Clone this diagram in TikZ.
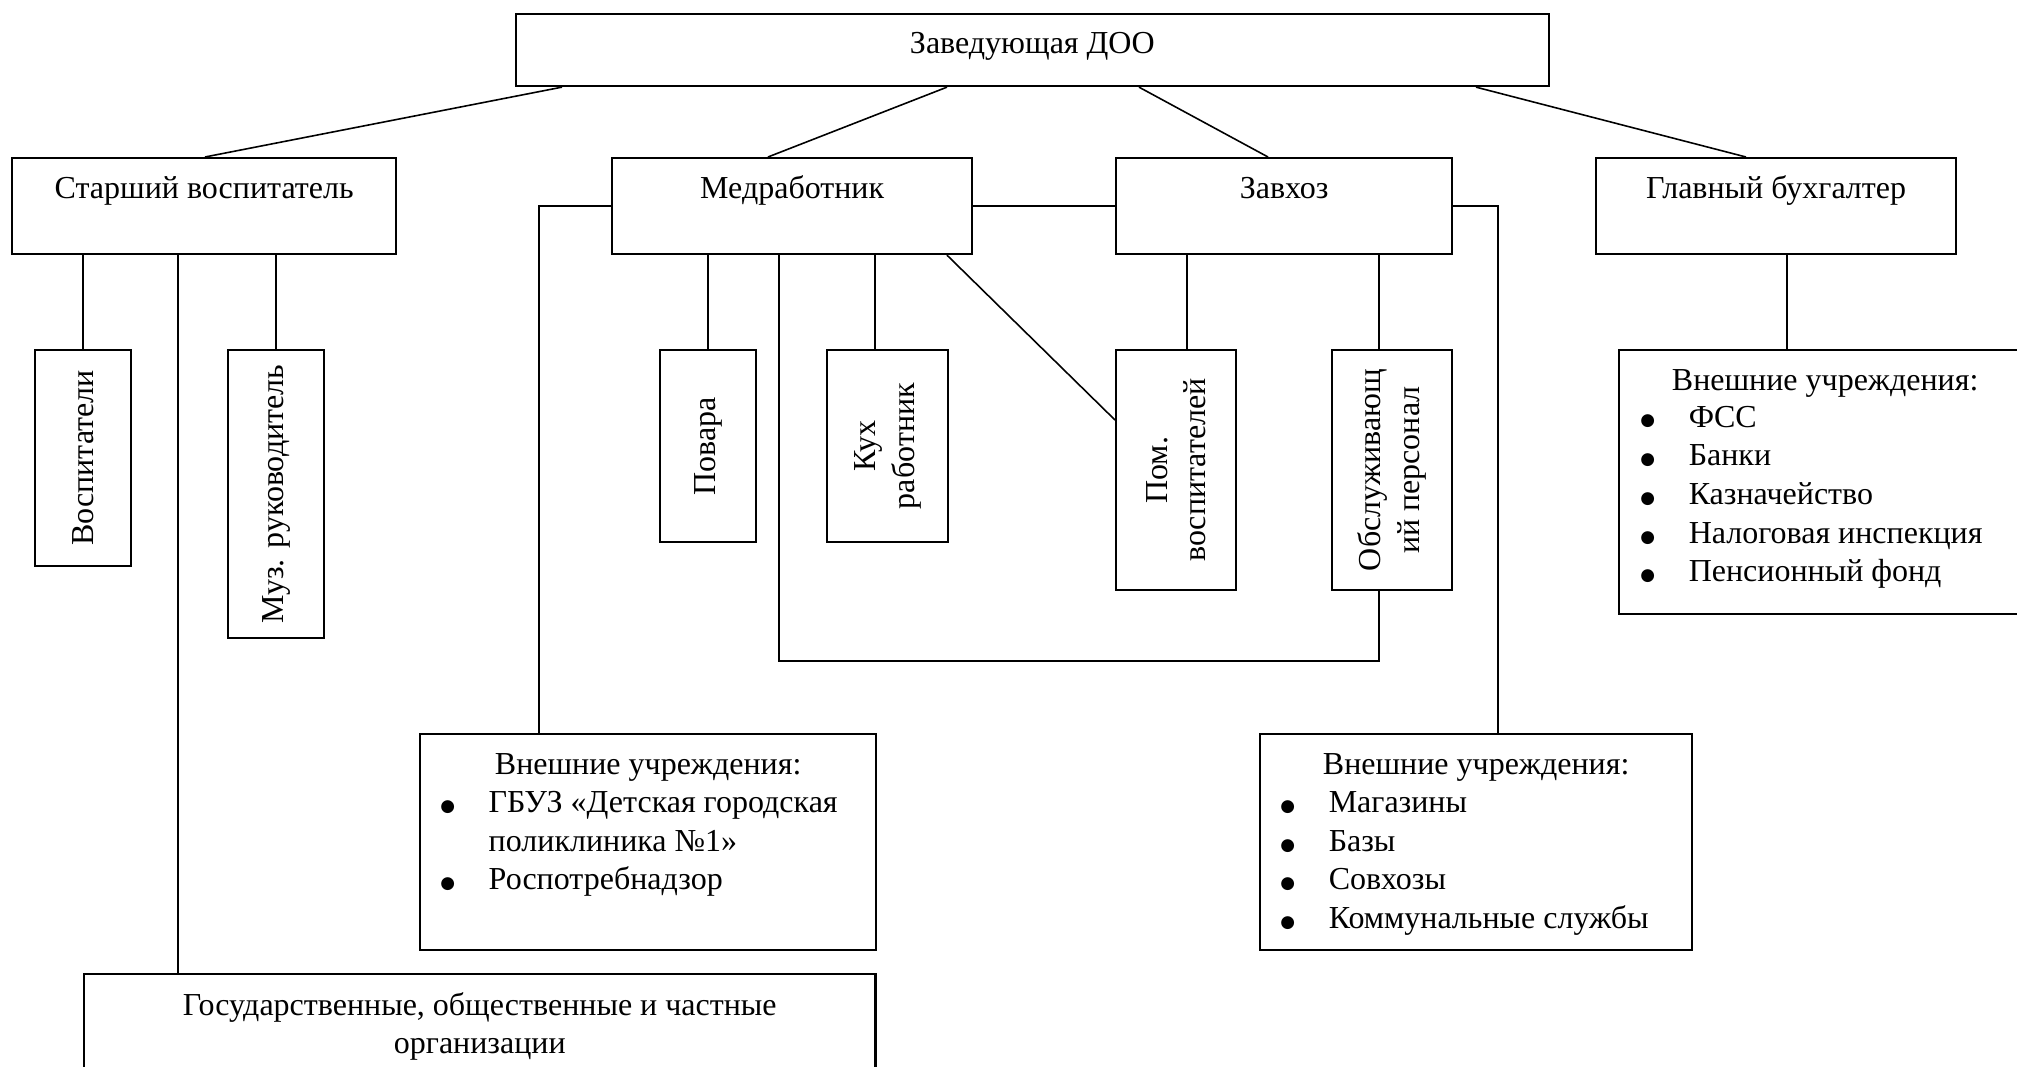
\documentclass[tikz,border=0pt]{standalone}
\usepackage{fontspec}
\setmainfont{Liberation Serif}
\newfontfamily\dotfont{DejaVu Sans}
\usepackage{tikz}
\usetikzlibrary{positioning}

\newcommand{\blt}{\llap{\makebox[0.82cm]{\raisebox{0.3pt}{\dotfont\fontsize{4.8}{6}\selectfont ●}}}}

\begin{document}
\begin{tikzpicture}[x=0.01cm, y=-0.01cm,
  blk/.style={draw, line width=0.6pt, inner sep=0pt, anchor=north west},
  txt/.style={inner sep=0pt, font=\fontsize{9.1}{11}\selectfont},
  link/.style={line width=0.45pt}]
\useasboundingbox (0,0) rectangle (2017,1067);
\clip (0,0) rectangle (2017,1067);

\node [blk, minimum width=10.32cm, minimum height=0.72cm] (zav) at (515,13) {};
\node [blk, minimum width=3.84cm, minimum height=0.96cm] (star) at (11,157) {};
\node [blk, minimum width=3.60cm, minimum height=0.96cm] (med) at (611,157) {};
\node [blk, minimum width=3.36cm, minimum height=0.96cm] (zavhoz) at (1115,157) {};
\node [blk, minimum width=3.60cm, minimum height=0.96cm] (buh) at (1595,157) {};

\node [blk, minimum width=0.96cm, minimum height=2.16cm] (vosp) at (34,349) {};
\node [blk, minimum width=0.96cm, minimum height=2.88cm] (muz) at (227,349) {};
\node [blk, minimum width=0.96cm, minimum height=1.92cm] (povar) at (659,349) {};
\node [blk, minimum width=1.21cm, minimum height=1.92cm] (kuh) at (826,349) {};
\node [blk, minimum width=1.20cm, minimum height=2.40cm] (pom) at (1115,349) {};
\node [blk, minimum width=1.20cm, minimum height=2.40cm] (obsl) at (1331,349) {};

\node [blk, minimum width=4.56cm, minimum height=2.16cm] (vnmed) at (419,733) {};
\node [blk, minimum width=4.32cm, minimum height=2.16cm] (vnhoz) at (1259,733) {};
\node [blk, minimum width=4.12cm, minimum height=2.64cm] (vnbuh) at (1618,349) {};
\node [blk, minimum width=7.91cm, minimum height=1.40cm] (org) at (83,973) {};

% titles
\node [txt, anchor=base] (zavt) at ([yshift=-0.40cm]zav.north) {Заведующая ДОО};
\node [txt, anchor=base] (start) at ([yshift=-0.41cm]star.north) {Старший воспитатель};
\node [txt, anchor=base] (medt) at ([yshift=-0.41cm]med.north) {Медработник};
\node [txt, anchor=base] (zavhozt) at ([yshift=-0.41cm]zavhoz.north) {Завхоз};
\node [txt, anchor=base] (buht) at ([yshift=-0.41cm]buh.north) {Главный бухгалтер};

\node [txt, rotate=90] (vospt) at (vosp) {Воспитатели};
\node [txt, rotate=90] (muzt) at (muz) {Муз. руководитель};
\node [txt, rotate=90] (povart) at (povar) {Повара};
\node [txt, rotate=90, align=center] (kuht) at (kuh) {Кух\\работник};
\node [txt, rotate=90, align=center] (pomt) at (pom) {Пом.\\воспитателей};
\node [txt, rotate=90, align=center] (obslt) at (obsl) {Обслуживающ\\ий персонал};

\node [txt, anchor=base] (vnmedh) at ([yshift=-0.41cm]vnmed.north) {Внешние учреждения:};
\node [txt, anchor=base west] (vnmedl) at ([shift={(0.69cm,-0.795cm)}]vnmed.north west)
  {\begin{tabular}[t]{@{}l@{}}\blt ГБУЗ «Детская городская\\ поликлиника №1»\\ \blt Роспотребнадзор\end{tabular}};

\node [txt, anchor=base] (vnhozh) at ([yshift=-0.41cm]vnhoz.north) {Внешние учреждения:};
\node [txt, anchor=base west] (vnhozl) at ([shift={(0.69cm,-0.795cm)}]vnhoz.north west)
  {\begin{tabular}[t]{@{}l@{}}\blt Магазины\\ \blt Базы\\ \blt Совхозы\\ \blt Коммунальные службы\end{tabular}};

\node [txt, anchor=base] (vnbuhh) at ([yshift=-0.41cm]vnbuh.north) {Внешние учреждения:};
\node [txt, anchor=base west] (vnbuhl) at ([shift={(0.70cm,-0.78cm)}]vnbuh.north west)
  {\begin{tabular}[t]{@{}l@{}}\blt ФСС\\ \blt Банки\\ \blt Казначейство\\ \blt Налоговая инспекция\\ \blt Пенсионный фонд\end{tabular}};

\node [txt, anchor=base] (orgt) at ([yshift=-0.42cm]org.north)
  {\begin{tabular}[t]{@{}c@{}}Государственные, общественные и частные\\ организации\end{tabular}};

% links
\draw [link] (562,0 |- zav.south) -- (205,0 |- star.north);
\draw [link] (947,0 |- zav.south) -- (768,0 |- med.north);
\draw [link] (1139,0 |- zav.south) -- (1268,0 |- zavhoz.north);
\draw [link] (1476,0 |- zav.south) -- (1746,0 |- buh.north);

\draw [link] (vosp.north) -- (vosp.north |- star.south);
\draw [link] (178,0 |- star.south) -- (178,0 |- org.north);
\draw [link] (muz.north) -- (muz.north |- star.south);

\draw [link] (med.west) -| (539,0 |- vnmed.north);
\draw [link] (med.east) -- (zavhoz.west);
\draw [link] (povar.north) -- (povar.north |- med.south);
\draw [link] (875,0 |- med.south) -- (875,0 |- kuh.north);
\draw [link] (947,0 |- med.south) -- (pom.west |- 0,420);
\coordinate (loop) at (1379,661);
\draw [link] (779,0 |- med.south) |- (loop) -- (loop |- obsl.south);

\draw [link] (zavhoz.east) -| (1498,0 |- vnhoz.north);
\draw [link] (1187,0 |- zavhoz.south) -- (1187,0 |- pom.north);
\draw [link] (1379,0 |- zavhoz.south) -- (1379,0 |- obsl.north);

\draw [link] (1787,0 |- buh.south) -- (1787,0 |- vnbuh.north);
\end{tikzpicture}
\end{document}
